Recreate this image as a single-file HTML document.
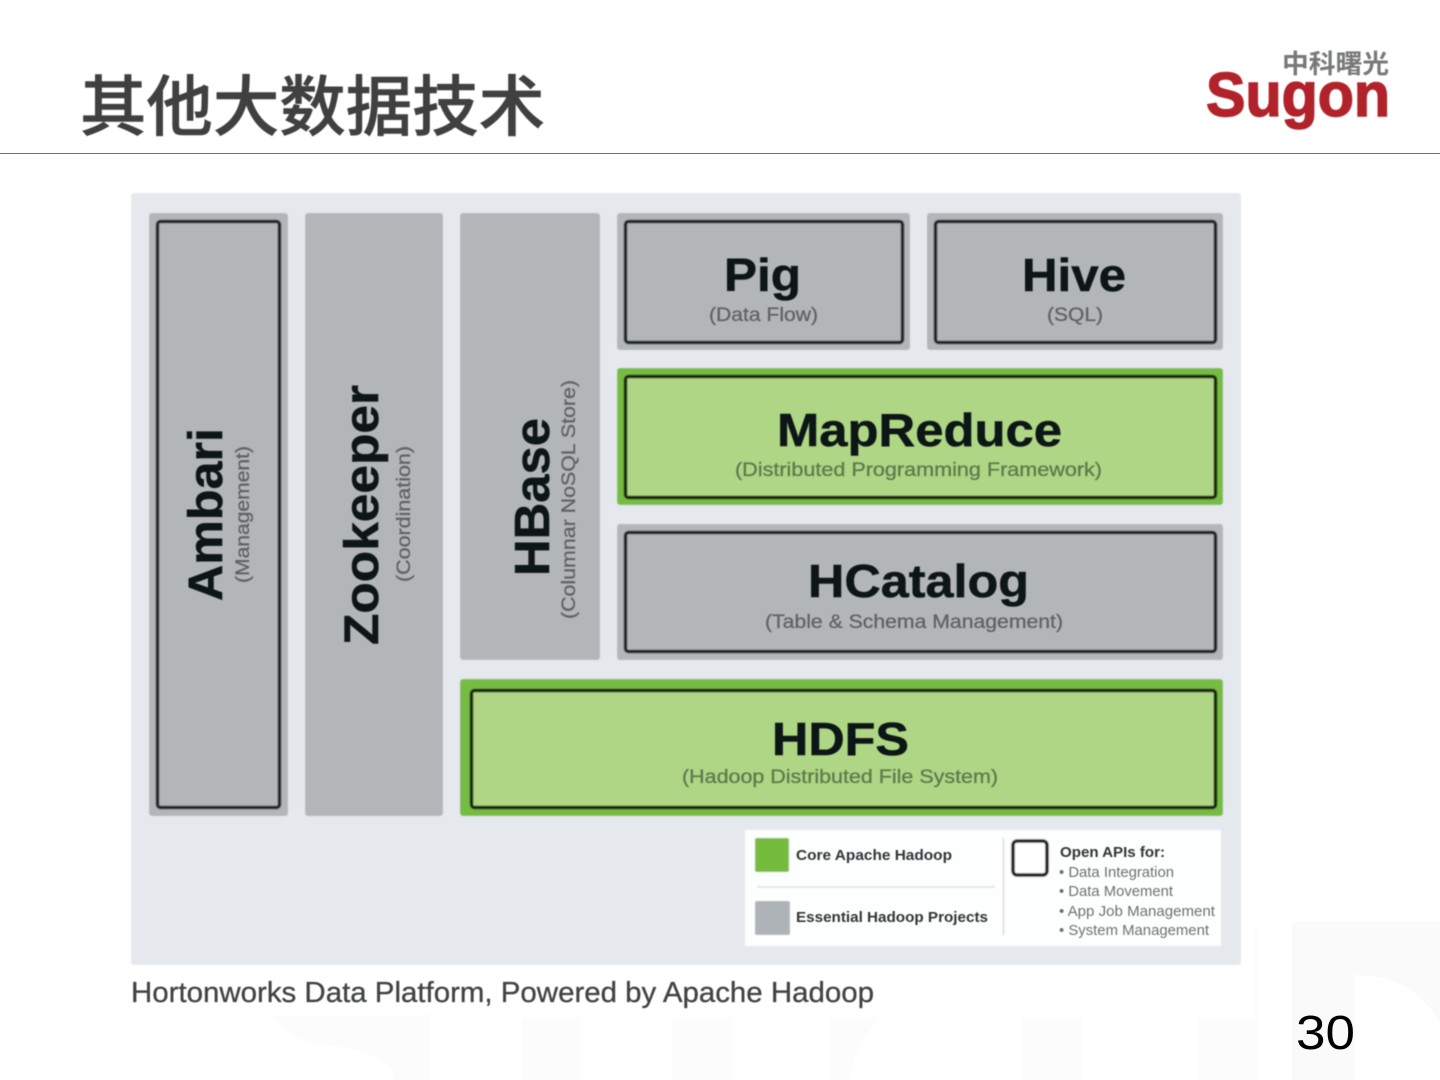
<!DOCTYPE html>
<html lang="zh">
<head>
<meta charset="utf-8">
<title>其他大数据技术</title>
<style>
html,body{margin:0;padding:0;background:#fff;width:1440px;height:1080px;overflow:hidden}
svg{display:block}
.sans{font-family:"Liberation Sans",sans-serif}
.h{font-family:"Liberation Sans",sans-serif;font-weight:700;font-size:46px;fill:#101416;stroke:#101416;stroke-width:.5}
.s{font-family:"Liberation Sans",sans-serif;font-size:19px;fill:#5f6466;stroke:#5f6466;stroke-width:.3}
.sg{font-family:"Liberation Sans",sans-serif;font-size:19px;fill:#5f7a4e;stroke:#5f7a4e;stroke-width:.3}
.lb{font-family:"Liberation Sans",sans-serif;font-weight:700;font-size:15px;fill:#333638}
.ll{font-family:"Liberation Sans",sans-serif;font-size:15px;fill:#6d7173}
</style>
</head>
<body>
<svg width="1440" height="1080" viewBox="0 0 1440 1080" xmlns="http://www.w3.org/2000/svg">
<defs>
<filter id="b1" x="-5%" y="-5%" width="110%" height="110%"><feGaussianBlur stdDeviation="0.8"/></filter>
<filter id="b2" x="-5%" y="-20%" width="110%" height="140%"><feGaussianBlur stdDeviation="0.55"/></filter>
<filter id="b3" x="-5%" y="-20%" width="110%" height="140%"><feGaussianBlur stdDeviation="0.4"/></filter>
</defs>

<!-- faint watermark -->
<path d="M1292 922H1440V1022C1420 990 1395 975 1355 975V1080H1292Z" fill="#fafafa"/>
<g fill="#fcfcfc">
<rect x="1023" y="1017" width="59" height="63"/>
<rect x="1199" y="1017" width="58" height="63"/>
<rect x="1255" y="925" width="2" height="92"/>
<rect x="672" y="1017" width="60" height="63"/>
<rect x="522" y="1017" width="58" height="63"/>
<path d="M270 1015H430V1080H395C390 1050 340 1048 300 1040Z"/>
<path d="M830 1017H880C860 1040 850 1060 850 1080H830Z"/>
</g>

<!-- title -->
<g filter="url(#b3)">
<text x="80" y="130" font-family="'Liberation Sans','Noto Sans CJK SC',sans-serif" font-size="66" font-weight="500" fill="#3f3f3f" stroke="#3f3f3f" stroke-width=".6" textLength="465" lengthAdjust="spacingAndGlyphs">其他大数据技术</text>

<!-- logo -->
<text x="1282" y="73" font-family="'Liberation Sans','Noto Sans CJK SC',sans-serif" font-size="26" font-weight="700" fill="#77797b" textLength="107" lengthAdjust="spacingAndGlyphs">中科曙光</text>
<text class="sans" x="1206" y="116" font-size="62" font-weight="700" fill="#b2242b" stroke="#b2242b" stroke-width="1.500" textLength="184" lengthAdjust="spacingAndGlyphs">Sugon</text>
</g>

<!-- rule -->
<rect x="0" y="153" width="1440" height="1" fill="#6f6f6f"/>

<!-- diagram -->
<g filter="url(#b1)">
<rect x="131" y="193" width="110" height="772" rx="3" fill="#e5e9ed"/>
<rect x="131" y="193" width="1110" height="772" rx="3" fill="#e5e9ed"/>

<rect x="149" y="213" width="139" height="603" rx="3" fill="#b2b6b9"/>
<rect x="157.500" y="221.500" width="122" height="586" rx="3" fill="#b2b6b9" stroke="#1d2226" stroke-width="3.500"/>
<rect x="305" y="213" width="138" height="603" rx="3" fill="#b2b6b9"/>
<rect x="460" y="213" width="140" height="447" rx="3" fill="#b2b6b9"/>

<rect x="617" y="213" width="293" height="137" rx="3" fill="#b2b6b9"/>
<rect x="625.500" y="221.500" width="277" height="121" rx="3" fill="#b2b6b9" stroke="#1d2226" stroke-width="3.500"/>
<rect x="927" y="213" width="296" height="137" rx="3" fill="#b2b6b9"/>
<rect x="935.500" y="221.500" width="280" height="121" rx="3" fill="#b2b6b9" stroke="#1d2226" stroke-width="3.500"/>

<rect x="617" y="368" width="606" height="137" rx="3" fill="#76bc43"/>
<rect x="625.500" y="376.500" width="590" height="121" rx="3" fill="#aed684" stroke="#14220f" stroke-width="3.500"/>

<rect x="617" y="524" width="606" height="136" rx="3" fill="#b2b6b9"/>
<rect x="625.500" y="532.500" width="590" height="119" rx="3" fill="#b2b6b9" stroke="#1d2226" stroke-width="3.500"/>

<rect x="460" y="679" width="763" height="137" rx="3" fill="#76bc43"/>
<rect x="471.500" y="690.500" width="744" height="117" rx="3" fill="#aed684" stroke="#14220f" stroke-width="3.500"/>

<!-- legend -->
<rect x="745" y="830" width="476" height="116" fill="#fdfefe"/>
<rect x="755" y="838" width="34" height="34" rx="2" fill="#74bb3e"/>
<rect x="757" y="886.500" width="238" height="1" fill="#c9cccd"/>
<rect x="755" y="901" width="35" height="34" rx="2" fill="#aeb3b7"/>
<rect x="1003" y="838" width="1" height="97" fill="#c6c9ca"/>
<rect x="1013" y="841" width="34" height="34" rx="4" fill="#fff" stroke="#17191b" stroke-width="3.500"/>
</g>

<g filter="url(#b2)">
<text class="h" x="724" y="291" textLength="77" lengthAdjust="spacingAndGlyphs">Pig</text>
<text class="s" x="709" y="321" textLength="109" lengthAdjust="spacingAndGlyphs">(Data Flow)</text>
<text class="h" x="1022" y="291" textLength="104" lengthAdjust="spacingAndGlyphs">Hive</text>
<text class="s" x="1047" y="321" textLength="56" lengthAdjust="spacingAndGlyphs">(SQL)</text>

<text class="h" x="777" y="446" textLength="285" lengthAdjust="spacingAndGlyphs">MapReduce</text>
<text class="sg" x="735" y="476" textLength="367" lengthAdjust="spacingAndGlyphs">(Distributed Programming Framework)</text>

<text class="h" x="808" y="597" textLength="221" lengthAdjust="spacingAndGlyphs">HCatalog</text>
<text class="s" x="765" y="628" textLength="298" lengthAdjust="spacingAndGlyphs">(Table &amp; Schema Management)</text>

<text class="h" x="772" y="755" textLength="137" lengthAdjust="spacingAndGlyphs">HDFS</text>
<text class="sg" x="682" y="783" textLength="316" lengthAdjust="spacingAndGlyphs">(Hadoop Distributed File System)</text>

<text class="h" style="font-size:48px" transform="translate(222 601) rotate(-90)" textLength="173" lengthAdjust="spacingAndGlyphs">Ambari</text>
<text class="s" transform="translate(249 583) rotate(-90)" textLength="137" lengthAdjust="spacingAndGlyphs">(Management)</text>

<text class="h" style="font-size:48px" transform="translate(378 645) rotate(-90)" textLength="260" lengthAdjust="spacingAndGlyphs">Zookeeper</text>
<text class="s" transform="translate(410 582) rotate(-90)" textLength="136" lengthAdjust="spacingAndGlyphs">(Coordination)</text>

<text class="h" style="font-size:49px" transform="translate(549 576) rotate(-90)" textLength="158" lengthAdjust="spacingAndGlyphs">HBase</text>
<text class="s" transform="translate(575 619) rotate(-90)" textLength="239" lengthAdjust="spacingAndGlyphs">(Columnar NoSQL Store)</text>

<text class="lb" x="796" y="860" textLength="156" lengthAdjust="spacingAndGlyphs">Core Apache Hadoop</text>
<text class="lb" x="796" y="922" textLength="192" lengthAdjust="spacingAndGlyphs">Essential Hadoop Projects</text>
<text class="lb" x="1060" y="857" textLength="105" lengthAdjust="spacingAndGlyphs">Open APIs for:</text>
<text class="ll" x="1059" y="877" textLength="115" lengthAdjust="spacingAndGlyphs">• Data Integration</text>
<text class="ll" x="1059" y="896" textLength="114" lengthAdjust="spacingAndGlyphs">• Data Movement</text>
<text class="ll" x="1059" y="916" textLength="156" lengthAdjust="spacingAndGlyphs">• App Job Management</text>
<text class="ll" x="1059" y="935" textLength="150" lengthAdjust="spacingAndGlyphs">• System Management</text>

<text class="sans" x="131" y="1002" font-size="29" fill="#3f4244" stroke="#3f4244" stroke-width=".3" textLength="743" lengthAdjust="spacingAndGlyphs">Hortonworks Data Platform, Powered by Apache Hadoop</text>
</g>

<!-- page number -->
<text class="sans" x="1296" y="1049" font-size="48" fill="#000" textLength="59" lengthAdjust="spacingAndGlyphs">30</text>
</svg>
</body>
</html>
